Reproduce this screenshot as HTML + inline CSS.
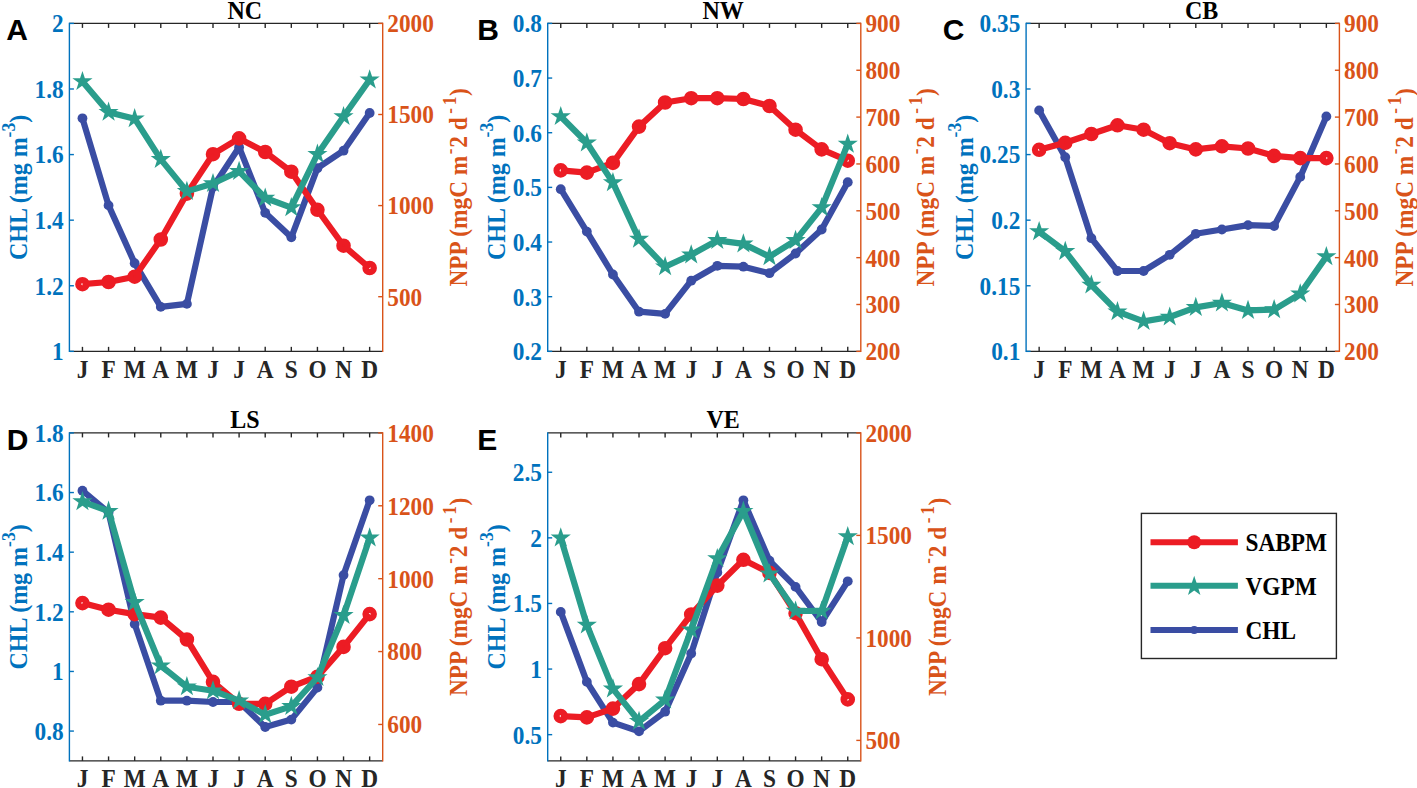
<!DOCTYPE html><html><head><meta charset="utf-8"><style>html,body{margin:0;padding:0;background:#fff;}svg{display:block;}</style></head><body>
<svg width="1417" height="788" viewBox="0 0 1417 788">
<rect width="1417" height="788" fill="#fff"/>
<line x1="69.40" y1="23.40" x2="382.70" y2="23.40" stroke="#262626" stroke-width="1.4"/>
<line x1="69.40" y1="351.35" x2="382.70" y2="351.35" stroke="#262626" stroke-width="1.4"/>
<line x1="69.40" y1="22.70" x2="69.40" y2="352.05" stroke="#0072BD" stroke-width="1.4"/>
<line x1="382.70" y1="22.70" x2="382.70" y2="352.05" stroke="#D95319" stroke-width="1.4"/>
<line x1="82.45" y1="351.35" x2="82.45" y2="346.85" stroke="#262626" stroke-width="1.4"/>
<line x1="82.45" y1="23.40" x2="82.45" y2="27.90" stroke="#262626" stroke-width="1.4"/>
<line x1="108.56" y1="351.35" x2="108.56" y2="346.85" stroke="#262626" stroke-width="1.4"/>
<line x1="108.56" y1="23.40" x2="108.56" y2="27.90" stroke="#262626" stroke-width="1.4"/>
<line x1="134.67" y1="351.35" x2="134.67" y2="346.85" stroke="#262626" stroke-width="1.4"/>
<line x1="134.67" y1="23.40" x2="134.67" y2="27.90" stroke="#262626" stroke-width="1.4"/>
<line x1="160.78" y1="351.35" x2="160.78" y2="346.85" stroke="#262626" stroke-width="1.4"/>
<line x1="160.78" y1="23.40" x2="160.78" y2="27.90" stroke="#262626" stroke-width="1.4"/>
<line x1="186.89" y1="351.35" x2="186.89" y2="346.85" stroke="#262626" stroke-width="1.4"/>
<line x1="186.89" y1="23.40" x2="186.89" y2="27.90" stroke="#262626" stroke-width="1.4"/>
<line x1="213.00" y1="351.35" x2="213.00" y2="346.85" stroke="#262626" stroke-width="1.4"/>
<line x1="213.00" y1="23.40" x2="213.00" y2="27.90" stroke="#262626" stroke-width="1.4"/>
<line x1="239.10" y1="351.35" x2="239.10" y2="346.85" stroke="#262626" stroke-width="1.4"/>
<line x1="239.10" y1="23.40" x2="239.10" y2="27.90" stroke="#262626" stroke-width="1.4"/>
<line x1="265.21" y1="351.35" x2="265.21" y2="346.85" stroke="#262626" stroke-width="1.4"/>
<line x1="265.21" y1="23.40" x2="265.21" y2="27.90" stroke="#262626" stroke-width="1.4"/>
<line x1="291.32" y1="351.35" x2="291.32" y2="346.85" stroke="#262626" stroke-width="1.4"/>
<line x1="291.32" y1="23.40" x2="291.32" y2="27.90" stroke="#262626" stroke-width="1.4"/>
<line x1="317.43" y1="351.35" x2="317.43" y2="346.85" stroke="#262626" stroke-width="1.4"/>
<line x1="317.43" y1="23.40" x2="317.43" y2="27.90" stroke="#262626" stroke-width="1.4"/>
<line x1="343.54" y1="351.35" x2="343.54" y2="346.85" stroke="#262626" stroke-width="1.4"/>
<line x1="343.54" y1="23.40" x2="343.54" y2="27.90" stroke="#262626" stroke-width="1.4"/>
<line x1="369.65" y1="351.35" x2="369.65" y2="346.85" stroke="#262626" stroke-width="1.4"/>
<line x1="369.65" y1="23.40" x2="369.65" y2="27.90" stroke="#262626" stroke-width="1.4"/>
<text transform="translate(82.45,377.65) scale(1.000,1.050)" text-anchor="middle" font-family='"Liberation Serif", serif' font-weight="bold" font-size="23.3" fill="#262626">J</text>
<text transform="translate(108.56,377.65) scale(1.000,1.050)" text-anchor="middle" font-family='"Liberation Serif", serif' font-weight="bold" font-size="23.3" fill="#262626">F</text>
<text transform="translate(134.67,377.65) scale(1.000,1.050)" text-anchor="middle" font-family='"Liberation Serif", serif' font-weight="bold" font-size="23.3" fill="#262626">M</text>
<text transform="translate(160.78,377.65) scale(1.000,1.050)" text-anchor="middle" font-family='"Liberation Serif", serif' font-weight="bold" font-size="23.3" fill="#262626">A</text>
<text transform="translate(186.89,377.65) scale(1.000,1.050)" text-anchor="middle" font-family='"Liberation Serif", serif' font-weight="bold" font-size="23.3" fill="#262626">M</text>
<text transform="translate(213.00,377.65) scale(1.000,1.050)" text-anchor="middle" font-family='"Liberation Serif", serif' font-weight="bold" font-size="23.3" fill="#262626">J</text>
<text transform="translate(239.10,377.65) scale(1.000,1.050)" text-anchor="middle" font-family='"Liberation Serif", serif' font-weight="bold" font-size="23.3" fill="#262626">J</text>
<text transform="translate(265.21,377.65) scale(1.000,1.050)" text-anchor="middle" font-family='"Liberation Serif", serif' font-weight="bold" font-size="23.3" fill="#262626">A</text>
<text transform="translate(291.32,377.65) scale(1.000,1.050)" text-anchor="middle" font-family='"Liberation Serif", serif' font-weight="bold" font-size="23.3" fill="#262626">S</text>
<text transform="translate(317.43,377.65) scale(1.000,1.050)" text-anchor="middle" font-family='"Liberation Serif", serif' font-weight="bold" font-size="23.3" fill="#262626">O</text>
<text transform="translate(343.54,377.65) scale(1.000,1.050)" text-anchor="middle" font-family='"Liberation Serif", serif' font-weight="bold" font-size="23.3" fill="#262626">N</text>
<text transform="translate(369.65,377.65) scale(1.000,1.050)" text-anchor="middle" font-family='"Liberation Serif", serif' font-weight="bold" font-size="23.3" fill="#262626">D</text>
<line x1="69.40" y1="351.35" x2="73.90" y2="351.35" stroke="#0072BD" stroke-width="1.4"/>
<text transform="translate(63.60,360.25) scale(1.000,1.050)" text-anchor="end" font-family='"Liberation Serif", serif' font-weight="bold" font-size="23.3" fill="#0072BD">1</text>
<line x1="69.40" y1="285.76" x2="73.90" y2="285.76" stroke="#0072BD" stroke-width="1.4"/>
<text transform="translate(63.60,294.66) scale(1.000,1.050)" text-anchor="end" font-family='"Liberation Serif", serif' font-weight="bold" font-size="23.3" fill="#0072BD">1.2</text>
<line x1="69.40" y1="220.17" x2="73.90" y2="220.17" stroke="#0072BD" stroke-width="1.4"/>
<text transform="translate(63.60,229.07) scale(1.000,1.050)" text-anchor="end" font-family='"Liberation Serif", serif' font-weight="bold" font-size="23.3" fill="#0072BD">1.4</text>
<line x1="69.40" y1="154.58" x2="73.90" y2="154.58" stroke="#0072BD" stroke-width="1.4"/>
<text transform="translate(63.60,163.48) scale(1.000,1.050)" text-anchor="end" font-family='"Liberation Serif", serif' font-weight="bold" font-size="23.3" fill="#0072BD">1.6</text>
<line x1="69.40" y1="88.99" x2="73.90" y2="88.99" stroke="#0072BD" stroke-width="1.4"/>
<text transform="translate(63.60,97.89) scale(1.000,1.050)" text-anchor="end" font-family='"Liberation Serif", serif' font-weight="bold" font-size="23.3" fill="#0072BD">1.8</text>
<line x1="69.40" y1="23.40" x2="73.90" y2="23.40" stroke="#0072BD" stroke-width="1.4"/>
<text transform="translate(63.60,32.30) scale(1.000,1.050)" text-anchor="end" font-family='"Liberation Serif", serif' font-weight="bold" font-size="23.3" fill="#0072BD">2</text>
<line x1="382.70" y1="296.69" x2="378.20" y2="296.69" stroke="#D95319" stroke-width="1.4"/>
<text transform="translate(387.30,305.59) scale(1.000,1.050)" text-anchor="start" font-family='"Liberation Serif", serif' font-weight="bold" font-size="23.3" fill="#D95319">500</text>
<line x1="382.70" y1="205.59" x2="378.20" y2="205.59" stroke="#D95319" stroke-width="1.4"/>
<text transform="translate(387.30,214.49) scale(1.000,1.050)" text-anchor="start" font-family='"Liberation Serif", serif' font-weight="bold" font-size="23.3" fill="#D95319">1000</text>
<line x1="382.70" y1="114.50" x2="378.20" y2="114.50" stroke="#D95319" stroke-width="1.4"/>
<text transform="translate(387.30,123.40) scale(1.000,1.050)" text-anchor="start" font-family='"Liberation Serif", serif' font-weight="bold" font-size="23.3" fill="#D95319">1500</text>
<line x1="382.70" y1="23.40" x2="378.20" y2="23.40" stroke="#D95319" stroke-width="1.4"/>
<text transform="translate(387.30,32.30) scale(1.000,1.050)" text-anchor="start" font-family='"Liberation Serif", serif' font-weight="bold" font-size="23.3" fill="#D95319">2000</text>
<text transform="translate(244.85,18.60) scale(1.000,1.050)" text-anchor="middle" font-family='"Liberation Serif", serif' font-weight="bold" font-size="24" fill="#000">NC</text>
<text transform="translate(6.20,40.00) scale(1.000,1.000)" text-anchor="start" font-family='"Liberation Sans", sans-serif' font-weight="bold" font-size="30" fill="#000">A</text>
<text transform="translate(26.70,187.38) rotate(-90) scale(1.030,1.050)" text-anchor="middle" font-family='"Liberation Serif", serif' font-weight="bold" font-size="23.3" fill="#0072BD">CHL (mg m<tspan dy="-11" font-size="17">-3</tspan><tspan dy="11">)</tspan></text>
<text transform="translate(467.40,187.38) rotate(-90) scale(1.000,1.050)" text-anchor="middle" font-family='"Liberation Serif", serif' font-weight="bold" font-size="23.3" fill="#D95319">NPP (mgC m<tspan dx="1.5" dy="-11" font-size="17">-</tspan><tspan dx="1" dy="11">2 d</tspan><tspan dx="3.5" dy="-11" font-size="17">-</tspan><tspan dx="3" font-size="17">1</tspan><tspan dx="0.5" dy="11">)</tspan></text>
<polyline points="82.45,118.30 108.56,205.40 134.67,263.20 160.78,306.90 186.89,303.90 213.00,187.00 239.10,147.20 265.21,212.80 291.32,237.30 317.43,168.20 343.54,150.70 369.65,113.00" fill="none" stroke="#3A4DA3" stroke-width="6.2" stroke-linejoin="round" stroke-linecap="butt"/>
<circle cx="82.45" cy="118.30" r="4.9" fill="#3A4DA3"/>
<circle cx="108.56" cy="205.40" r="4.9" fill="#3A4DA3"/>
<circle cx="134.67" cy="263.20" r="4.9" fill="#3A4DA3"/>
<circle cx="160.78" cy="306.90" r="4.9" fill="#3A4DA3"/>
<circle cx="186.89" cy="303.90" r="4.9" fill="#3A4DA3"/>
<circle cx="213.00" cy="187.00" r="4.9" fill="#3A4DA3"/>
<circle cx="239.10" cy="147.20" r="4.9" fill="#3A4DA3"/>
<circle cx="265.21" cy="212.80" r="4.9" fill="#3A4DA3"/>
<circle cx="291.32" cy="237.30" r="4.9" fill="#3A4DA3"/>
<circle cx="317.43" cy="168.20" r="4.9" fill="#3A4DA3"/>
<circle cx="343.54" cy="150.70" r="4.9" fill="#3A4DA3"/>
<circle cx="369.65" cy="113.00" r="4.9" fill="#3A4DA3"/>
<polyline points="82.45,284.20 108.56,282.00 134.67,276.70 160.78,239.50 186.89,193.60 213.00,154.20 239.10,138.40 265.21,152.00 291.32,171.70 317.43,209.80 343.54,245.70 369.65,268.00" fill="none" stroke="#EC1C24" stroke-width="6.2" stroke-linejoin="round" stroke-linecap="butt"/>
<circle cx="82.45" cy="284.20" r="4.2" fill="none" stroke="#EC1C24" stroke-width="6.2"/>
<circle cx="108.56" cy="282.00" r="4.2" fill="none" stroke="#EC1C24" stroke-width="6.2"/>
<circle cx="134.67" cy="276.70" r="4.2" fill="none" stroke="#EC1C24" stroke-width="6.2"/>
<circle cx="160.78" cy="239.50" r="4.2" fill="none" stroke="#EC1C24" stroke-width="6.2"/>
<circle cx="186.89" cy="193.60" r="4.2" fill="none" stroke="#EC1C24" stroke-width="6.2"/>
<circle cx="213.00" cy="154.20" r="4.2" fill="none" stroke="#EC1C24" stroke-width="6.2"/>
<circle cx="239.10" cy="138.40" r="4.2" fill="none" stroke="#EC1C24" stroke-width="6.2"/>
<circle cx="265.21" cy="152.00" r="4.2" fill="none" stroke="#EC1C24" stroke-width="6.2"/>
<circle cx="291.32" cy="171.70" r="4.2" fill="none" stroke="#EC1C24" stroke-width="6.2"/>
<circle cx="317.43" cy="209.80" r="4.2" fill="none" stroke="#EC1C24" stroke-width="6.2"/>
<circle cx="343.54" cy="245.70" r="4.2" fill="none" stroke="#EC1C24" stroke-width="6.2"/>
<circle cx="369.65" cy="268.00" r="4.2" fill="none" stroke="#EC1C24" stroke-width="6.2"/>
<polyline points="82.45,81.50 108.56,112.20 134.67,118.70 160.78,159.40 186.89,191.40 213.00,183.50 239.10,171.30 265.21,198.00 291.32,207.60 317.43,154.20 343.54,116.50 369.65,79.80" fill="none" stroke="#2A9D8C" stroke-width="6.2" stroke-linejoin="round" stroke-linecap="butt"/>
<polygon points="82.45,70.90 80.04,78.18 72.37,78.22 78.55,82.77 76.22,90.08 82.45,85.60 88.68,90.08 86.35,82.77 92.54,78.22 84.86,78.18" fill="#2A9D8C"/>
<polygon points="108.56,101.60 106.15,108.88 98.48,108.92 104.66,113.47 102.33,120.78 108.56,116.30 114.79,120.78 112.46,113.47 118.64,108.92 110.97,108.88" fill="#2A9D8C"/>
<polygon points="134.67,108.10 132.26,115.38 124.59,115.42 130.77,119.97 128.44,127.28 134.67,122.80 140.90,127.28 138.57,119.97 144.75,115.42 137.08,115.38" fill="#2A9D8C"/>
<polygon points="160.78,148.80 158.37,156.08 150.70,156.12 156.88,160.67 154.55,167.98 160.78,163.50 167.01,167.98 164.68,160.67 170.86,156.12 163.19,156.08" fill="#2A9D8C"/>
<polygon points="186.89,180.80 184.48,188.08 176.81,188.12 182.99,192.67 180.66,199.98 186.89,195.50 193.12,199.98 190.79,192.67 196.97,188.12 189.30,188.08" fill="#2A9D8C"/>
<polygon points="213.00,172.90 210.59,180.18 202.91,180.22 209.10,184.77 206.77,192.08 213.00,187.60 219.23,192.08 216.90,184.77 223.08,180.22 215.41,180.18" fill="#2A9D8C"/>
<polygon points="239.10,160.70 236.69,167.98 229.02,168.02 235.20,172.57 232.87,179.88 239.10,175.40 245.33,179.88 243.00,172.57 249.19,168.02 241.51,167.98" fill="#2A9D8C"/>
<polygon points="265.21,187.40 262.80,194.68 255.13,194.72 261.31,199.27 258.98,206.58 265.21,202.10 271.44,206.58 269.11,199.27 275.29,194.72 267.62,194.68" fill="#2A9D8C"/>
<polygon points="291.32,197.00 288.91,204.28 281.24,204.32 287.42,208.87 285.09,216.18 291.32,211.70 297.55,216.18 295.22,208.87 301.40,204.32 293.73,204.28" fill="#2A9D8C"/>
<polygon points="317.43,143.60 315.02,150.88 307.35,150.92 313.53,155.47 311.20,162.78 317.43,158.30 323.66,162.78 321.33,155.47 327.51,150.92 319.84,150.88" fill="#2A9D8C"/>
<polygon points="343.54,105.90 341.13,113.18 333.46,113.22 339.64,117.77 337.31,125.08 343.54,120.60 349.77,125.08 347.44,117.77 353.62,113.22 345.95,113.18" fill="#2A9D8C"/>
<polygon points="369.65,69.20 367.24,76.48 359.56,76.52 365.75,81.07 363.42,88.38 369.65,83.90 375.88,88.38 373.55,81.07 379.73,76.52 372.06,76.48" fill="#2A9D8C"/>
<line x1="547.70" y1="23.40" x2="860.80" y2="23.40" stroke="#262626" stroke-width="1.4"/>
<line x1="547.70" y1="351.35" x2="860.80" y2="351.35" stroke="#262626" stroke-width="1.4"/>
<line x1="547.70" y1="22.70" x2="547.70" y2="352.05" stroke="#0072BD" stroke-width="1.4"/>
<line x1="860.80" y1="22.70" x2="860.80" y2="352.05" stroke="#D95319" stroke-width="1.4"/>
<line x1="560.75" y1="351.35" x2="560.75" y2="346.85" stroke="#262626" stroke-width="1.4"/>
<line x1="560.75" y1="23.40" x2="560.75" y2="27.90" stroke="#262626" stroke-width="1.4"/>
<line x1="586.84" y1="351.35" x2="586.84" y2="346.85" stroke="#262626" stroke-width="1.4"/>
<line x1="586.84" y1="23.40" x2="586.84" y2="27.90" stroke="#262626" stroke-width="1.4"/>
<line x1="612.93" y1="351.35" x2="612.93" y2="346.85" stroke="#262626" stroke-width="1.4"/>
<line x1="612.93" y1="23.40" x2="612.93" y2="27.90" stroke="#262626" stroke-width="1.4"/>
<line x1="639.02" y1="351.35" x2="639.02" y2="346.85" stroke="#262626" stroke-width="1.4"/>
<line x1="639.02" y1="23.40" x2="639.02" y2="27.90" stroke="#262626" stroke-width="1.4"/>
<line x1="665.11" y1="351.35" x2="665.11" y2="346.85" stroke="#262626" stroke-width="1.4"/>
<line x1="665.11" y1="23.40" x2="665.11" y2="27.90" stroke="#262626" stroke-width="1.4"/>
<line x1="691.20" y1="351.35" x2="691.20" y2="346.85" stroke="#262626" stroke-width="1.4"/>
<line x1="691.20" y1="23.40" x2="691.20" y2="27.90" stroke="#262626" stroke-width="1.4"/>
<line x1="717.30" y1="351.35" x2="717.30" y2="346.85" stroke="#262626" stroke-width="1.4"/>
<line x1="717.30" y1="23.40" x2="717.30" y2="27.90" stroke="#262626" stroke-width="1.4"/>
<line x1="743.39" y1="351.35" x2="743.39" y2="346.85" stroke="#262626" stroke-width="1.4"/>
<line x1="743.39" y1="23.40" x2="743.39" y2="27.90" stroke="#262626" stroke-width="1.4"/>
<line x1="769.48" y1="351.35" x2="769.48" y2="346.85" stroke="#262626" stroke-width="1.4"/>
<line x1="769.48" y1="23.40" x2="769.48" y2="27.90" stroke="#262626" stroke-width="1.4"/>
<line x1="795.57" y1="351.35" x2="795.57" y2="346.85" stroke="#262626" stroke-width="1.4"/>
<line x1="795.57" y1="23.40" x2="795.57" y2="27.90" stroke="#262626" stroke-width="1.4"/>
<line x1="821.66" y1="351.35" x2="821.66" y2="346.85" stroke="#262626" stroke-width="1.4"/>
<line x1="821.66" y1="23.40" x2="821.66" y2="27.90" stroke="#262626" stroke-width="1.4"/>
<line x1="847.75" y1="351.35" x2="847.75" y2="346.85" stroke="#262626" stroke-width="1.4"/>
<line x1="847.75" y1="23.40" x2="847.75" y2="27.90" stroke="#262626" stroke-width="1.4"/>
<text transform="translate(560.75,377.65) scale(1.000,1.050)" text-anchor="middle" font-family='"Liberation Serif", serif' font-weight="bold" font-size="23.3" fill="#262626">J</text>
<text transform="translate(586.84,377.65) scale(1.000,1.050)" text-anchor="middle" font-family='"Liberation Serif", serif' font-weight="bold" font-size="23.3" fill="#262626">F</text>
<text transform="translate(612.93,377.65) scale(1.000,1.050)" text-anchor="middle" font-family='"Liberation Serif", serif' font-weight="bold" font-size="23.3" fill="#262626">M</text>
<text transform="translate(639.02,377.65) scale(1.000,1.050)" text-anchor="middle" font-family='"Liberation Serif", serif' font-weight="bold" font-size="23.3" fill="#262626">A</text>
<text transform="translate(665.11,377.65) scale(1.000,1.050)" text-anchor="middle" font-family='"Liberation Serif", serif' font-weight="bold" font-size="23.3" fill="#262626">M</text>
<text transform="translate(691.20,377.65) scale(1.000,1.050)" text-anchor="middle" font-family='"Liberation Serif", serif' font-weight="bold" font-size="23.3" fill="#262626">J</text>
<text transform="translate(717.30,377.65) scale(1.000,1.050)" text-anchor="middle" font-family='"Liberation Serif", serif' font-weight="bold" font-size="23.3" fill="#262626">J</text>
<text transform="translate(743.39,377.65) scale(1.000,1.050)" text-anchor="middle" font-family='"Liberation Serif", serif' font-weight="bold" font-size="23.3" fill="#262626">A</text>
<text transform="translate(769.48,377.65) scale(1.000,1.050)" text-anchor="middle" font-family='"Liberation Serif", serif' font-weight="bold" font-size="23.3" fill="#262626">S</text>
<text transform="translate(795.57,377.65) scale(1.000,1.050)" text-anchor="middle" font-family='"Liberation Serif", serif' font-weight="bold" font-size="23.3" fill="#262626">O</text>
<text transform="translate(821.66,377.65) scale(1.000,1.050)" text-anchor="middle" font-family='"Liberation Serif", serif' font-weight="bold" font-size="23.3" fill="#262626">N</text>
<text transform="translate(847.75,377.65) scale(1.000,1.050)" text-anchor="middle" font-family='"Liberation Serif", serif' font-weight="bold" font-size="23.3" fill="#262626">D</text>
<line x1="547.70" y1="351.35" x2="552.20" y2="351.35" stroke="#0072BD" stroke-width="1.4"/>
<text transform="translate(541.90,360.25) scale(1.000,1.050)" text-anchor="end" font-family='"Liberation Serif", serif' font-weight="bold" font-size="23.3" fill="#0072BD">0.2</text>
<line x1="547.70" y1="296.69" x2="552.20" y2="296.69" stroke="#0072BD" stroke-width="1.4"/>
<text transform="translate(541.90,305.59) scale(1.000,1.050)" text-anchor="end" font-family='"Liberation Serif", serif' font-weight="bold" font-size="23.3" fill="#0072BD">0.3</text>
<line x1="547.70" y1="242.03" x2="552.20" y2="242.03" stroke="#0072BD" stroke-width="1.4"/>
<text transform="translate(541.90,250.93) scale(1.000,1.050)" text-anchor="end" font-family='"Liberation Serif", serif' font-weight="bold" font-size="23.3" fill="#0072BD">0.4</text>
<line x1="547.70" y1="187.38" x2="552.20" y2="187.38" stroke="#0072BD" stroke-width="1.4"/>
<text transform="translate(541.90,196.28) scale(1.000,1.050)" text-anchor="end" font-family='"Liberation Serif", serif' font-weight="bold" font-size="23.3" fill="#0072BD">0.5</text>
<line x1="547.70" y1="132.72" x2="552.20" y2="132.72" stroke="#0072BD" stroke-width="1.4"/>
<text transform="translate(541.90,141.62) scale(1.000,1.050)" text-anchor="end" font-family='"Liberation Serif", serif' font-weight="bold" font-size="23.3" fill="#0072BD">0.6</text>
<line x1="547.70" y1="78.06" x2="552.20" y2="78.06" stroke="#0072BD" stroke-width="1.4"/>
<text transform="translate(541.90,86.96) scale(1.000,1.050)" text-anchor="end" font-family='"Liberation Serif", serif' font-weight="bold" font-size="23.3" fill="#0072BD">0.7</text>
<line x1="547.70" y1="23.40" x2="552.20" y2="23.40" stroke="#0072BD" stroke-width="1.4"/>
<text transform="translate(541.90,32.30) scale(1.000,1.050)" text-anchor="end" font-family='"Liberation Serif", serif' font-weight="bold" font-size="23.3" fill="#0072BD">0.8</text>
<line x1="860.80" y1="351.35" x2="856.30" y2="351.35" stroke="#D95319" stroke-width="1.4"/>
<text transform="translate(865.40,360.25) scale(1.000,1.050)" text-anchor="start" font-family='"Liberation Serif", serif' font-weight="bold" font-size="23.3" fill="#D95319">200</text>
<line x1="860.80" y1="304.50" x2="856.30" y2="304.50" stroke="#D95319" stroke-width="1.4"/>
<text transform="translate(865.40,313.40) scale(1.000,1.050)" text-anchor="start" font-family='"Liberation Serif", serif' font-weight="bold" font-size="23.3" fill="#D95319">300</text>
<line x1="860.80" y1="257.65" x2="856.30" y2="257.65" stroke="#D95319" stroke-width="1.4"/>
<text transform="translate(865.40,266.55) scale(1.000,1.050)" text-anchor="start" font-family='"Liberation Serif", serif' font-weight="bold" font-size="23.3" fill="#D95319">400</text>
<line x1="860.80" y1="210.80" x2="856.30" y2="210.80" stroke="#D95319" stroke-width="1.4"/>
<text transform="translate(865.40,219.70) scale(1.000,1.050)" text-anchor="start" font-family='"Liberation Serif", serif' font-weight="bold" font-size="23.3" fill="#D95319">500</text>
<line x1="860.80" y1="163.95" x2="856.30" y2="163.95" stroke="#D95319" stroke-width="1.4"/>
<text transform="translate(865.40,172.85) scale(1.000,1.050)" text-anchor="start" font-family='"Liberation Serif", serif' font-weight="bold" font-size="23.3" fill="#D95319">600</text>
<line x1="860.80" y1="117.10" x2="856.30" y2="117.10" stroke="#D95319" stroke-width="1.4"/>
<text transform="translate(865.40,126.00) scale(1.000,1.050)" text-anchor="start" font-family='"Liberation Serif", serif' font-weight="bold" font-size="23.3" fill="#D95319">700</text>
<line x1="860.80" y1="70.25" x2="856.30" y2="70.25" stroke="#D95319" stroke-width="1.4"/>
<text transform="translate(865.40,79.15) scale(1.000,1.050)" text-anchor="start" font-family='"Liberation Serif", serif' font-weight="bold" font-size="23.3" fill="#D95319">800</text>
<line x1="860.80" y1="23.40" x2="856.30" y2="23.40" stroke="#D95319" stroke-width="1.4"/>
<text transform="translate(865.40,32.30) scale(1.000,1.050)" text-anchor="start" font-family='"Liberation Serif", serif' font-weight="bold" font-size="23.3" fill="#D95319">900</text>
<text transform="translate(723.05,18.60) scale(1.000,1.050)" text-anchor="middle" font-family='"Liberation Serif", serif' font-weight="bold" font-size="24" fill="#000">NW</text>
<text transform="translate(477.30,40.00) scale(1.000,1.000)" text-anchor="start" font-family='"Liberation Sans", sans-serif' font-weight="bold" font-size="30" fill="#000">B</text>
<text transform="translate(505.00,187.38) rotate(-90) scale(1.030,1.050)" text-anchor="middle" font-family='"Liberation Serif", serif' font-weight="bold" font-size="23.3" fill="#0072BD">CHL (mg m<tspan dy="-11" font-size="17">-3</tspan><tspan dy="11">)</tspan></text>
<text transform="translate(934.00,187.38) rotate(-90) scale(1.000,1.050)" text-anchor="middle" font-family='"Liberation Serif", serif' font-weight="bold" font-size="23.3" fill="#D95319">NPP (mgC m<tspan dx="1.5" dy="-11" font-size="17">-</tspan><tspan dx="1" dy="11">2 d</tspan><tspan dx="3.5" dy="-11" font-size="17">-</tspan><tspan dx="3" font-size="17">1</tspan><tspan dx="0.5" dy="11">)</tspan></text>
<polyline points="560.75,189.20 586.84,231.60 612.93,274.50 639.02,311.70 665.11,313.90 691.20,280.70 717.30,265.80 743.39,266.70 769.48,273.20 795.57,253.50 821.66,229.50 847.75,182.20" fill="none" stroke="#3A4DA3" stroke-width="6.2" stroke-linejoin="round" stroke-linecap="butt"/>
<circle cx="560.75" cy="189.20" r="4.9" fill="#3A4DA3"/>
<circle cx="586.84" cy="231.60" r="4.9" fill="#3A4DA3"/>
<circle cx="612.93" cy="274.50" r="4.9" fill="#3A4DA3"/>
<circle cx="639.02" cy="311.70" r="4.9" fill="#3A4DA3"/>
<circle cx="665.11" cy="313.90" r="4.9" fill="#3A4DA3"/>
<circle cx="691.20" cy="280.70" r="4.9" fill="#3A4DA3"/>
<circle cx="717.30" cy="265.80" r="4.9" fill="#3A4DA3"/>
<circle cx="743.39" cy="266.70" r="4.9" fill="#3A4DA3"/>
<circle cx="769.48" cy="273.20" r="4.9" fill="#3A4DA3"/>
<circle cx="795.57" cy="253.50" r="4.9" fill="#3A4DA3"/>
<circle cx="821.66" cy="229.50" r="4.9" fill="#3A4DA3"/>
<circle cx="847.75" cy="182.20" r="4.9" fill="#3A4DA3"/>
<polyline points="560.75,170.40 586.84,172.60 612.93,162.90 639.02,126.60 665.11,102.50 691.20,98.20 717.30,98.20 743.39,99.00 769.48,106.00 795.57,129.70 821.66,149.40 847.75,160.70" fill="none" stroke="#EC1C24" stroke-width="6.2" stroke-linejoin="round" stroke-linecap="butt"/>
<circle cx="560.75" cy="170.40" r="4.2" fill="none" stroke="#EC1C24" stroke-width="6.2"/>
<circle cx="586.84" cy="172.60" r="4.2" fill="none" stroke="#EC1C24" stroke-width="6.2"/>
<circle cx="612.93" cy="162.90" r="4.2" fill="none" stroke="#EC1C24" stroke-width="6.2"/>
<circle cx="639.02" cy="126.60" r="4.2" fill="none" stroke="#EC1C24" stroke-width="6.2"/>
<circle cx="665.11" cy="102.50" r="4.2" fill="none" stroke="#EC1C24" stroke-width="6.2"/>
<circle cx="691.20" cy="98.20" r="4.2" fill="none" stroke="#EC1C24" stroke-width="6.2"/>
<circle cx="717.30" cy="98.20" r="4.2" fill="none" stroke="#EC1C24" stroke-width="6.2"/>
<circle cx="743.39" cy="99.00" r="4.2" fill="none" stroke="#EC1C24" stroke-width="6.2"/>
<circle cx="769.48" cy="106.00" r="4.2" fill="none" stroke="#EC1C24" stroke-width="6.2"/>
<circle cx="795.57" cy="129.70" r="4.2" fill="none" stroke="#EC1C24" stroke-width="6.2"/>
<circle cx="821.66" cy="149.40" r="4.2" fill="none" stroke="#EC1C24" stroke-width="6.2"/>
<circle cx="847.75" cy="160.70" r="4.2" fill="none" stroke="#EC1C24" stroke-width="6.2"/>
<polyline points="560.75,116.50 586.84,142.80 612.93,182.60 639.02,239.10 665.11,266.70 691.20,254.80 717.30,240.40 743.39,243.90 769.48,256.60 795.57,240.40 821.66,207.60 847.75,144.10" fill="none" stroke="#2A9D8C" stroke-width="6.2" stroke-linejoin="round" stroke-linecap="butt"/>
<polygon points="560.75,105.90 558.34,113.18 550.66,113.22 556.85,117.77 554.52,125.08 560.75,120.60 566.98,125.08 564.65,117.77 570.83,113.22 563.16,113.18" fill="#2A9D8C"/>
<polygon points="586.84,132.20 584.43,139.48 576.76,139.52 582.94,144.07 580.61,151.38 586.84,146.90 593.07,151.38 590.74,144.07 596.92,139.52 589.25,139.48" fill="#2A9D8C"/>
<polygon points="612.93,172.00 610.52,179.28 602.85,179.32 609.03,183.87 606.70,191.18 612.93,186.70 619.16,191.18 616.83,183.87 623.01,179.32 615.34,179.28" fill="#2A9D8C"/>
<polygon points="639.02,228.50 636.61,235.78 628.94,235.82 635.12,240.37 632.79,247.68 639.02,243.20 645.25,247.68 642.92,240.37 649.10,235.82 641.43,235.78" fill="#2A9D8C"/>
<polygon points="665.11,256.10 662.70,263.38 655.03,263.42 661.21,267.97 658.88,275.28 665.11,270.80 671.34,275.28 669.01,267.97 675.19,263.42 667.52,263.38" fill="#2A9D8C"/>
<polygon points="691.20,244.20 688.79,251.48 681.12,251.52 687.30,256.07 684.97,263.38 691.20,258.90 697.43,263.38 695.10,256.07 701.29,251.52 693.61,251.48" fill="#2A9D8C"/>
<polygon points="717.30,229.80 714.89,237.08 707.21,237.12 713.40,241.67 711.07,248.98 717.30,244.50 723.53,248.98 721.20,241.67 727.38,237.12 719.71,237.08" fill="#2A9D8C"/>
<polygon points="743.39,233.30 740.98,240.58 733.31,240.62 739.49,245.17 737.16,252.48 743.39,248.00 749.62,252.48 747.29,245.17 753.47,240.62 745.80,240.58" fill="#2A9D8C"/>
<polygon points="769.48,246.00 767.07,253.28 759.40,253.32 765.58,257.87 763.25,265.18 769.48,260.70 775.71,265.18 773.38,257.87 779.56,253.32 771.89,253.28" fill="#2A9D8C"/>
<polygon points="795.57,229.80 793.16,237.08 785.49,237.12 791.67,241.67 789.34,248.98 795.57,244.50 801.80,248.98 799.47,241.67 805.65,237.12 797.98,237.08" fill="#2A9D8C"/>
<polygon points="821.66,197.00 819.25,204.28 811.58,204.32 817.76,208.87 815.43,216.18 821.66,211.70 827.89,216.18 825.56,208.87 831.74,204.32 824.07,204.28" fill="#2A9D8C"/>
<polygon points="847.75,133.50 845.34,140.78 837.67,140.82 843.85,145.37 841.52,152.68 847.75,148.20 853.98,152.68 851.65,145.37 857.84,140.82 850.16,140.78" fill="#2A9D8C"/>
<line x1="1026.10" y1="23.40" x2="1339.40" y2="23.40" stroke="#262626" stroke-width="1.4"/>
<line x1="1026.10" y1="351.35" x2="1339.40" y2="351.35" stroke="#262626" stroke-width="1.4"/>
<line x1="1026.10" y1="22.70" x2="1026.10" y2="352.05" stroke="#0072BD" stroke-width="1.4"/>
<line x1="1339.40" y1="22.70" x2="1339.40" y2="352.05" stroke="#D95319" stroke-width="1.4"/>
<line x1="1039.15" y1="351.35" x2="1039.15" y2="346.85" stroke="#262626" stroke-width="1.4"/>
<line x1="1039.15" y1="23.40" x2="1039.15" y2="27.90" stroke="#262626" stroke-width="1.4"/>
<line x1="1065.26" y1="351.35" x2="1065.26" y2="346.85" stroke="#262626" stroke-width="1.4"/>
<line x1="1065.26" y1="23.40" x2="1065.26" y2="27.90" stroke="#262626" stroke-width="1.4"/>
<line x1="1091.37" y1="351.35" x2="1091.37" y2="346.85" stroke="#262626" stroke-width="1.4"/>
<line x1="1091.37" y1="23.40" x2="1091.37" y2="27.90" stroke="#262626" stroke-width="1.4"/>
<line x1="1117.48" y1="351.35" x2="1117.48" y2="346.85" stroke="#262626" stroke-width="1.4"/>
<line x1="1117.48" y1="23.40" x2="1117.48" y2="27.90" stroke="#262626" stroke-width="1.4"/>
<line x1="1143.59" y1="351.35" x2="1143.59" y2="346.85" stroke="#262626" stroke-width="1.4"/>
<line x1="1143.59" y1="23.40" x2="1143.59" y2="27.90" stroke="#262626" stroke-width="1.4"/>
<line x1="1169.70" y1="351.35" x2="1169.70" y2="346.85" stroke="#262626" stroke-width="1.4"/>
<line x1="1169.70" y1="23.40" x2="1169.70" y2="27.90" stroke="#262626" stroke-width="1.4"/>
<line x1="1195.80" y1="351.35" x2="1195.80" y2="346.85" stroke="#262626" stroke-width="1.4"/>
<line x1="1195.80" y1="23.40" x2="1195.80" y2="27.90" stroke="#262626" stroke-width="1.4"/>
<line x1="1221.91" y1="351.35" x2="1221.91" y2="346.85" stroke="#262626" stroke-width="1.4"/>
<line x1="1221.91" y1="23.40" x2="1221.91" y2="27.90" stroke="#262626" stroke-width="1.4"/>
<line x1="1248.02" y1="351.35" x2="1248.02" y2="346.85" stroke="#262626" stroke-width="1.4"/>
<line x1="1248.02" y1="23.40" x2="1248.02" y2="27.90" stroke="#262626" stroke-width="1.4"/>
<line x1="1274.13" y1="351.35" x2="1274.13" y2="346.85" stroke="#262626" stroke-width="1.4"/>
<line x1="1274.13" y1="23.40" x2="1274.13" y2="27.90" stroke="#262626" stroke-width="1.4"/>
<line x1="1300.24" y1="351.35" x2="1300.24" y2="346.85" stroke="#262626" stroke-width="1.4"/>
<line x1="1300.24" y1="23.40" x2="1300.24" y2="27.90" stroke="#262626" stroke-width="1.4"/>
<line x1="1326.35" y1="351.35" x2="1326.35" y2="346.85" stroke="#262626" stroke-width="1.4"/>
<line x1="1326.35" y1="23.40" x2="1326.35" y2="27.90" stroke="#262626" stroke-width="1.4"/>
<text transform="translate(1039.15,377.65) scale(1.000,1.050)" text-anchor="middle" font-family='"Liberation Serif", serif' font-weight="bold" font-size="23.3" fill="#262626">J</text>
<text transform="translate(1065.26,377.65) scale(1.000,1.050)" text-anchor="middle" font-family='"Liberation Serif", serif' font-weight="bold" font-size="23.3" fill="#262626">F</text>
<text transform="translate(1091.37,377.65) scale(1.000,1.050)" text-anchor="middle" font-family='"Liberation Serif", serif' font-weight="bold" font-size="23.3" fill="#262626">M</text>
<text transform="translate(1117.48,377.65) scale(1.000,1.050)" text-anchor="middle" font-family='"Liberation Serif", serif' font-weight="bold" font-size="23.3" fill="#262626">A</text>
<text transform="translate(1143.59,377.65) scale(1.000,1.050)" text-anchor="middle" font-family='"Liberation Serif", serif' font-weight="bold" font-size="23.3" fill="#262626">M</text>
<text transform="translate(1169.70,377.65) scale(1.000,1.050)" text-anchor="middle" font-family='"Liberation Serif", serif' font-weight="bold" font-size="23.3" fill="#262626">J</text>
<text transform="translate(1195.80,377.65) scale(1.000,1.050)" text-anchor="middle" font-family='"Liberation Serif", serif' font-weight="bold" font-size="23.3" fill="#262626">J</text>
<text transform="translate(1221.91,377.65) scale(1.000,1.050)" text-anchor="middle" font-family='"Liberation Serif", serif' font-weight="bold" font-size="23.3" fill="#262626">A</text>
<text transform="translate(1248.02,377.65) scale(1.000,1.050)" text-anchor="middle" font-family='"Liberation Serif", serif' font-weight="bold" font-size="23.3" fill="#262626">S</text>
<text transform="translate(1274.13,377.65) scale(1.000,1.050)" text-anchor="middle" font-family='"Liberation Serif", serif' font-weight="bold" font-size="23.3" fill="#262626">O</text>
<text transform="translate(1300.24,377.65) scale(1.000,1.050)" text-anchor="middle" font-family='"Liberation Serif", serif' font-weight="bold" font-size="23.3" fill="#262626">N</text>
<text transform="translate(1326.35,377.65) scale(1.000,1.050)" text-anchor="middle" font-family='"Liberation Serif", serif' font-weight="bold" font-size="23.3" fill="#262626">D</text>
<line x1="1026.10" y1="351.35" x2="1030.60" y2="351.35" stroke="#0072BD" stroke-width="1.4"/>
<text transform="translate(1020.30,360.25) scale(1.000,1.050)" text-anchor="end" font-family='"Liberation Serif", serif' font-weight="bold" font-size="23.3" fill="#0072BD">0.1</text>
<line x1="1026.10" y1="285.76" x2="1030.60" y2="285.76" stroke="#0072BD" stroke-width="1.4"/>
<text transform="translate(1020.30,294.66) scale(1.000,1.050)" text-anchor="end" font-family='"Liberation Serif", serif' font-weight="bold" font-size="23.3" fill="#0072BD">0.15</text>
<line x1="1026.10" y1="220.17" x2="1030.60" y2="220.17" stroke="#0072BD" stroke-width="1.4"/>
<text transform="translate(1020.30,229.07) scale(1.000,1.050)" text-anchor="end" font-family='"Liberation Serif", serif' font-weight="bold" font-size="23.3" fill="#0072BD">0.2</text>
<line x1="1026.10" y1="154.58" x2="1030.60" y2="154.58" stroke="#0072BD" stroke-width="1.4"/>
<text transform="translate(1020.30,163.48) scale(1.000,1.050)" text-anchor="end" font-family='"Liberation Serif", serif' font-weight="bold" font-size="23.3" fill="#0072BD">0.25</text>
<line x1="1026.10" y1="88.99" x2="1030.60" y2="88.99" stroke="#0072BD" stroke-width="1.4"/>
<text transform="translate(1020.30,97.89) scale(1.000,1.050)" text-anchor="end" font-family='"Liberation Serif", serif' font-weight="bold" font-size="23.3" fill="#0072BD">0.3</text>
<line x1="1026.10" y1="23.40" x2="1030.60" y2="23.40" stroke="#0072BD" stroke-width="1.4"/>
<text transform="translate(1020.30,32.30) scale(1.000,1.050)" text-anchor="end" font-family='"Liberation Serif", serif' font-weight="bold" font-size="23.3" fill="#0072BD">0.35</text>
<line x1="1339.40" y1="351.35" x2="1334.90" y2="351.35" stroke="#D95319" stroke-width="1.4"/>
<text transform="translate(1344.00,360.25) scale(1.000,1.050)" text-anchor="start" font-family='"Liberation Serif", serif' font-weight="bold" font-size="23.3" fill="#D95319">200</text>
<line x1="1339.40" y1="304.50" x2="1334.90" y2="304.50" stroke="#D95319" stroke-width="1.4"/>
<text transform="translate(1344.00,313.40) scale(1.000,1.050)" text-anchor="start" font-family='"Liberation Serif", serif' font-weight="bold" font-size="23.3" fill="#D95319">300</text>
<line x1="1339.40" y1="257.65" x2="1334.90" y2="257.65" stroke="#D95319" stroke-width="1.4"/>
<text transform="translate(1344.00,266.55) scale(1.000,1.050)" text-anchor="start" font-family='"Liberation Serif", serif' font-weight="bold" font-size="23.3" fill="#D95319">400</text>
<line x1="1339.40" y1="210.80" x2="1334.90" y2="210.80" stroke="#D95319" stroke-width="1.4"/>
<text transform="translate(1344.00,219.70) scale(1.000,1.050)" text-anchor="start" font-family='"Liberation Serif", serif' font-weight="bold" font-size="23.3" fill="#D95319">500</text>
<line x1="1339.40" y1="163.95" x2="1334.90" y2="163.95" stroke="#D95319" stroke-width="1.4"/>
<text transform="translate(1344.00,172.85) scale(1.000,1.050)" text-anchor="start" font-family='"Liberation Serif", serif' font-weight="bold" font-size="23.3" fill="#D95319">600</text>
<line x1="1339.40" y1="117.10" x2="1334.90" y2="117.10" stroke="#D95319" stroke-width="1.4"/>
<text transform="translate(1344.00,126.00) scale(1.000,1.050)" text-anchor="start" font-family='"Liberation Serif", serif' font-weight="bold" font-size="23.3" fill="#D95319">700</text>
<line x1="1339.40" y1="70.25" x2="1334.90" y2="70.25" stroke="#D95319" stroke-width="1.4"/>
<text transform="translate(1344.00,79.15) scale(1.000,1.050)" text-anchor="start" font-family='"Liberation Serif", serif' font-weight="bold" font-size="23.3" fill="#D95319">800</text>
<line x1="1339.40" y1="23.40" x2="1334.90" y2="23.40" stroke="#D95319" stroke-width="1.4"/>
<text transform="translate(1344.00,32.30) scale(1.000,1.050)" text-anchor="start" font-family='"Liberation Serif", serif' font-weight="bold" font-size="23.3" fill="#D95319">900</text>
<text transform="translate(1201.55,18.60) scale(1.000,1.050)" text-anchor="middle" font-family='"Liberation Serif", serif' font-weight="bold" font-size="24" fill="#000">CB</text>
<text transform="translate(942.80,40.00) scale(1.000,1.000)" text-anchor="start" font-family='"Liberation Sans", sans-serif' font-weight="bold" font-size="30" fill="#000">C</text>
<text transform="translate(973.00,187.38) rotate(-90) scale(1.030,1.050)" text-anchor="middle" font-family='"Liberation Serif", serif' font-weight="bold" font-size="23.3" fill="#0072BD">CHL (mg m<tspan dy="-11" font-size="17">-3</tspan><tspan dy="11">)</tspan></text>
<text transform="translate(1412.60,187.38) rotate(-90) scale(1.000,1.050)" text-anchor="middle" font-family='"Liberation Serif", serif' font-weight="bold" font-size="23.3" fill="#D95319">NPP (mgC m<tspan dx="1.5" dy="-11" font-size="17">-</tspan><tspan dx="1" dy="11">2 d</tspan><tspan dx="3.5" dy="-11" font-size="17">-</tspan><tspan dx="3" font-size="17">1</tspan><tspan dx="0.5" dy="11">)</tspan></text>
<polyline points="1039.15,110.40 1065.26,157.20 1091.37,238.20 1117.48,271.00 1143.59,271.00 1169.70,254.80 1195.80,233.80 1221.91,229.50 1248.02,225.10 1274.13,226.00 1300.24,176.90 1326.35,116.50" fill="none" stroke="#3A4DA3" stroke-width="6.2" stroke-linejoin="round" stroke-linecap="butt"/>
<circle cx="1039.15" cy="110.40" r="4.9" fill="#3A4DA3"/>
<circle cx="1065.26" cy="157.20" r="4.9" fill="#3A4DA3"/>
<circle cx="1091.37" cy="238.20" r="4.9" fill="#3A4DA3"/>
<circle cx="1117.48" cy="271.00" r="4.9" fill="#3A4DA3"/>
<circle cx="1143.59" cy="271.00" r="4.9" fill="#3A4DA3"/>
<circle cx="1169.70" cy="254.80" r="4.9" fill="#3A4DA3"/>
<circle cx="1195.80" cy="233.80" r="4.9" fill="#3A4DA3"/>
<circle cx="1221.91" cy="229.50" r="4.9" fill="#3A4DA3"/>
<circle cx="1248.02" cy="225.10" r="4.9" fill="#3A4DA3"/>
<circle cx="1274.13" cy="226.00" r="4.9" fill="#3A4DA3"/>
<circle cx="1300.24" cy="176.90" r="4.9" fill="#3A4DA3"/>
<circle cx="1326.35" cy="116.50" r="4.9" fill="#3A4DA3"/>
<polyline points="1039.15,149.80 1065.26,142.80 1091.37,134.00 1117.48,125.30 1143.59,129.70 1169.70,143.20 1195.80,149.40 1221.91,146.30 1248.02,148.50 1274.13,155.90 1300.24,158.10 1326.35,158.10" fill="none" stroke="#EC1C24" stroke-width="6.2" stroke-linejoin="round" stroke-linecap="butt"/>
<circle cx="1039.15" cy="149.80" r="4.2" fill="none" stroke="#EC1C24" stroke-width="6.2"/>
<circle cx="1065.26" cy="142.80" r="4.2" fill="none" stroke="#EC1C24" stroke-width="6.2"/>
<circle cx="1091.37" cy="134.00" r="4.2" fill="none" stroke="#EC1C24" stroke-width="6.2"/>
<circle cx="1117.48" cy="125.30" r="4.2" fill="none" stroke="#EC1C24" stroke-width="6.2"/>
<circle cx="1143.59" cy="129.70" r="4.2" fill="none" stroke="#EC1C24" stroke-width="6.2"/>
<circle cx="1169.70" cy="143.20" r="4.2" fill="none" stroke="#EC1C24" stroke-width="6.2"/>
<circle cx="1195.80" cy="149.40" r="4.2" fill="none" stroke="#EC1C24" stroke-width="6.2"/>
<circle cx="1221.91" cy="146.30" r="4.2" fill="none" stroke="#EC1C24" stroke-width="6.2"/>
<circle cx="1248.02" cy="148.50" r="4.2" fill="none" stroke="#EC1C24" stroke-width="6.2"/>
<circle cx="1274.13" cy="155.90" r="4.2" fill="none" stroke="#EC1C24" stroke-width="6.2"/>
<circle cx="1300.24" cy="158.10" r="4.2" fill="none" stroke="#EC1C24" stroke-width="6.2"/>
<circle cx="1326.35" cy="158.10" r="4.2" fill="none" stroke="#EC1C24" stroke-width="6.2"/>
<polyline points="1039.15,231.60 1065.26,251.30 1091.37,285.00 1117.48,311.70 1143.59,321.40 1169.70,317.00 1195.80,307.40 1221.91,303.00 1248.02,310.40 1274.13,309.60 1300.24,293.80 1326.35,256.60" fill="none" stroke="#2A9D8C" stroke-width="6.2" stroke-linejoin="round" stroke-linecap="butt"/>
<polygon points="1039.15,221.00 1036.74,228.28 1029.07,228.32 1035.25,232.87 1032.92,240.18 1039.15,235.70 1045.38,240.18 1043.05,232.87 1049.24,228.32 1041.56,228.28" fill="#2A9D8C"/>
<polygon points="1065.26,240.70 1062.85,247.98 1055.18,248.02 1061.36,252.57 1059.03,259.88 1065.26,255.40 1071.49,259.88 1069.16,252.57 1075.34,248.02 1067.67,247.98" fill="#2A9D8C"/>
<polygon points="1091.37,274.40 1088.96,281.68 1081.29,281.72 1087.47,286.27 1085.14,293.58 1091.37,289.10 1097.60,293.58 1095.27,286.27 1101.45,281.72 1093.78,281.68" fill="#2A9D8C"/>
<polygon points="1117.48,301.10 1115.07,308.38 1107.40,308.42 1113.58,312.97 1111.25,320.28 1117.48,315.80 1123.71,320.28 1121.38,312.97 1127.56,308.42 1119.89,308.38" fill="#2A9D8C"/>
<polygon points="1143.59,310.80 1141.18,318.08 1133.51,318.12 1139.69,322.67 1137.36,329.98 1143.59,325.50 1149.82,329.98 1147.49,322.67 1153.67,318.12 1146.00,318.08" fill="#2A9D8C"/>
<polygon points="1169.70,306.40 1167.29,313.68 1159.61,313.72 1165.80,318.27 1163.47,325.58 1169.70,321.10 1175.93,325.58 1173.60,318.27 1179.78,313.72 1172.11,313.68" fill="#2A9D8C"/>
<polygon points="1195.80,296.80 1193.39,304.08 1185.72,304.12 1191.90,308.67 1189.57,315.98 1195.80,311.50 1202.03,315.98 1199.70,308.67 1205.89,304.12 1198.21,304.08" fill="#2A9D8C"/>
<polygon points="1221.91,292.40 1219.50,299.68 1211.83,299.72 1218.01,304.27 1215.68,311.58 1221.91,307.10 1228.14,311.58 1225.81,304.27 1231.99,299.72 1224.32,299.68" fill="#2A9D8C"/>
<polygon points="1248.02,299.80 1245.61,307.08 1237.94,307.12 1244.12,311.67 1241.79,318.98 1248.02,314.50 1254.25,318.98 1251.92,311.67 1258.10,307.12 1250.43,307.08" fill="#2A9D8C"/>
<polygon points="1274.13,299.00 1271.72,306.28 1264.05,306.32 1270.23,310.87 1267.90,318.18 1274.13,313.70 1280.36,318.18 1278.03,310.87 1284.21,306.32 1276.54,306.28" fill="#2A9D8C"/>
<polygon points="1300.24,283.20 1297.83,290.48 1290.16,290.52 1296.34,295.07 1294.01,302.38 1300.24,297.90 1306.47,302.38 1304.14,295.07 1310.32,290.52 1302.65,290.48" fill="#2A9D8C"/>
<polygon points="1326.35,246.00 1323.94,253.28 1316.26,253.32 1322.45,257.87 1320.12,265.18 1326.35,260.70 1332.58,265.18 1330.25,257.87 1336.43,253.32 1328.76,253.28" fill="#2A9D8C"/>
<line x1="69.40" y1="432.90" x2="382.70" y2="432.90" stroke="#262626" stroke-width="1.4"/>
<line x1="69.40" y1="760.90" x2="382.70" y2="760.90" stroke="#262626" stroke-width="1.4"/>
<line x1="69.40" y1="432.20" x2="69.40" y2="761.60" stroke="#0072BD" stroke-width="1.4"/>
<line x1="382.70" y1="432.20" x2="382.70" y2="761.60" stroke="#D95319" stroke-width="1.4"/>
<line x1="82.45" y1="760.90" x2="82.45" y2="756.40" stroke="#262626" stroke-width="1.4"/>
<line x1="82.45" y1="432.90" x2="82.45" y2="437.40" stroke="#262626" stroke-width="1.4"/>
<line x1="108.56" y1="760.90" x2="108.56" y2="756.40" stroke="#262626" stroke-width="1.4"/>
<line x1="108.56" y1="432.90" x2="108.56" y2="437.40" stroke="#262626" stroke-width="1.4"/>
<line x1="134.67" y1="760.90" x2="134.67" y2="756.40" stroke="#262626" stroke-width="1.4"/>
<line x1="134.67" y1="432.90" x2="134.67" y2="437.40" stroke="#262626" stroke-width="1.4"/>
<line x1="160.78" y1="760.90" x2="160.78" y2="756.40" stroke="#262626" stroke-width="1.4"/>
<line x1="160.78" y1="432.90" x2="160.78" y2="437.40" stroke="#262626" stroke-width="1.4"/>
<line x1="186.89" y1="760.90" x2="186.89" y2="756.40" stroke="#262626" stroke-width="1.4"/>
<line x1="186.89" y1="432.90" x2="186.89" y2="437.40" stroke="#262626" stroke-width="1.4"/>
<line x1="213.00" y1="760.90" x2="213.00" y2="756.40" stroke="#262626" stroke-width="1.4"/>
<line x1="213.00" y1="432.90" x2="213.00" y2="437.40" stroke="#262626" stroke-width="1.4"/>
<line x1="239.10" y1="760.90" x2="239.10" y2="756.40" stroke="#262626" stroke-width="1.4"/>
<line x1="239.10" y1="432.90" x2="239.10" y2="437.40" stroke="#262626" stroke-width="1.4"/>
<line x1="265.21" y1="760.90" x2="265.21" y2="756.40" stroke="#262626" stroke-width="1.4"/>
<line x1="265.21" y1="432.90" x2="265.21" y2="437.40" stroke="#262626" stroke-width="1.4"/>
<line x1="291.32" y1="760.90" x2="291.32" y2="756.40" stroke="#262626" stroke-width="1.4"/>
<line x1="291.32" y1="432.90" x2="291.32" y2="437.40" stroke="#262626" stroke-width="1.4"/>
<line x1="317.43" y1="760.90" x2="317.43" y2="756.40" stroke="#262626" stroke-width="1.4"/>
<line x1="317.43" y1="432.90" x2="317.43" y2="437.40" stroke="#262626" stroke-width="1.4"/>
<line x1="343.54" y1="760.90" x2="343.54" y2="756.40" stroke="#262626" stroke-width="1.4"/>
<line x1="343.54" y1="432.90" x2="343.54" y2="437.40" stroke="#262626" stroke-width="1.4"/>
<line x1="369.65" y1="760.90" x2="369.65" y2="756.40" stroke="#262626" stroke-width="1.4"/>
<line x1="369.65" y1="432.90" x2="369.65" y2="437.40" stroke="#262626" stroke-width="1.4"/>
<text transform="translate(82.45,787.20) scale(1.000,1.050)" text-anchor="middle" font-family='"Liberation Serif", serif' font-weight="bold" font-size="23.3" fill="#262626">J</text>
<text transform="translate(108.56,787.20) scale(1.000,1.050)" text-anchor="middle" font-family='"Liberation Serif", serif' font-weight="bold" font-size="23.3" fill="#262626">F</text>
<text transform="translate(134.67,787.20) scale(1.000,1.050)" text-anchor="middle" font-family='"Liberation Serif", serif' font-weight="bold" font-size="23.3" fill="#262626">M</text>
<text transform="translate(160.78,787.20) scale(1.000,1.050)" text-anchor="middle" font-family='"Liberation Serif", serif' font-weight="bold" font-size="23.3" fill="#262626">A</text>
<text transform="translate(186.89,787.20) scale(1.000,1.050)" text-anchor="middle" font-family='"Liberation Serif", serif' font-weight="bold" font-size="23.3" fill="#262626">M</text>
<text transform="translate(213.00,787.20) scale(1.000,1.050)" text-anchor="middle" font-family='"Liberation Serif", serif' font-weight="bold" font-size="23.3" fill="#262626">J</text>
<text transform="translate(239.10,787.20) scale(1.000,1.050)" text-anchor="middle" font-family='"Liberation Serif", serif' font-weight="bold" font-size="23.3" fill="#262626">J</text>
<text transform="translate(265.21,787.20) scale(1.000,1.050)" text-anchor="middle" font-family='"Liberation Serif", serif' font-weight="bold" font-size="23.3" fill="#262626">A</text>
<text transform="translate(291.32,787.20) scale(1.000,1.050)" text-anchor="middle" font-family='"Liberation Serif", serif' font-weight="bold" font-size="23.3" fill="#262626">S</text>
<text transform="translate(317.43,787.20) scale(1.000,1.050)" text-anchor="middle" font-family='"Liberation Serif", serif' font-weight="bold" font-size="23.3" fill="#262626">O</text>
<text transform="translate(343.54,787.20) scale(1.000,1.050)" text-anchor="middle" font-family='"Liberation Serif", serif' font-weight="bold" font-size="23.3" fill="#262626">N</text>
<text transform="translate(369.65,787.20) scale(1.000,1.050)" text-anchor="middle" font-family='"Liberation Serif", serif' font-weight="bold" font-size="23.3" fill="#262626">D</text>
<line x1="69.40" y1="731.08" x2="73.90" y2="731.08" stroke="#0072BD" stroke-width="1.4"/>
<text transform="translate(63.60,739.98) scale(1.000,1.050)" text-anchor="end" font-family='"Liberation Serif", serif' font-weight="bold" font-size="23.3" fill="#0072BD">0.8</text>
<line x1="69.40" y1="671.45" x2="73.90" y2="671.45" stroke="#0072BD" stroke-width="1.4"/>
<text transform="translate(63.60,680.35) scale(1.000,1.050)" text-anchor="end" font-family='"Liberation Serif", serif' font-weight="bold" font-size="23.3" fill="#0072BD">1</text>
<line x1="69.40" y1="611.81" x2="73.90" y2="611.81" stroke="#0072BD" stroke-width="1.4"/>
<text transform="translate(63.60,620.71) scale(1.000,1.050)" text-anchor="end" font-family='"Liberation Serif", serif' font-weight="bold" font-size="23.3" fill="#0072BD">1.2</text>
<line x1="69.40" y1="552.17" x2="73.90" y2="552.17" stroke="#0072BD" stroke-width="1.4"/>
<text transform="translate(63.60,561.07) scale(1.000,1.050)" text-anchor="end" font-family='"Liberation Serif", serif' font-weight="bold" font-size="23.3" fill="#0072BD">1.4</text>
<line x1="69.40" y1="492.54" x2="73.90" y2="492.54" stroke="#0072BD" stroke-width="1.4"/>
<text transform="translate(63.60,501.44) scale(1.000,1.050)" text-anchor="end" font-family='"Liberation Serif", serif' font-weight="bold" font-size="23.3" fill="#0072BD">1.6</text>
<line x1="69.40" y1="432.90" x2="73.90" y2="432.90" stroke="#0072BD" stroke-width="1.4"/>
<text transform="translate(63.60,441.80) scale(1.000,1.050)" text-anchor="end" font-family='"Liberation Serif", serif' font-weight="bold" font-size="23.3" fill="#0072BD">1.8</text>
<line x1="382.70" y1="724.46" x2="378.20" y2="724.46" stroke="#D95319" stroke-width="1.4"/>
<text transform="translate(387.30,733.36) scale(1.000,1.050)" text-anchor="start" font-family='"Liberation Serif", serif' font-weight="bold" font-size="23.3" fill="#D95319">600</text>
<line x1="382.70" y1="651.57" x2="378.20" y2="651.57" stroke="#D95319" stroke-width="1.4"/>
<text transform="translate(387.30,660.47) scale(1.000,1.050)" text-anchor="start" font-family='"Liberation Serif", serif' font-weight="bold" font-size="23.3" fill="#D95319">800</text>
<line x1="382.70" y1="578.68" x2="378.20" y2="578.68" stroke="#D95319" stroke-width="1.4"/>
<text transform="translate(387.30,587.58) scale(1.000,1.050)" text-anchor="start" font-family='"Liberation Serif", serif' font-weight="bold" font-size="23.3" fill="#D95319">1000</text>
<line x1="382.70" y1="505.79" x2="378.20" y2="505.79" stroke="#D95319" stroke-width="1.4"/>
<text transform="translate(387.30,514.69) scale(1.000,1.050)" text-anchor="start" font-family='"Liberation Serif", serif' font-weight="bold" font-size="23.3" fill="#D95319">1200</text>
<line x1="382.70" y1="432.90" x2="378.20" y2="432.90" stroke="#D95319" stroke-width="1.4"/>
<text transform="translate(387.30,441.80) scale(1.000,1.050)" text-anchor="start" font-family='"Liberation Serif", serif' font-weight="bold" font-size="23.3" fill="#D95319">1400</text>
<text transform="translate(244.85,428.10) scale(1.000,1.050)" text-anchor="middle" font-family='"Liberation Serif", serif' font-weight="bold" font-size="24" fill="#000">LS</text>
<text transform="translate(6.80,449.50) scale(1.000,1.000)" text-anchor="start" font-family='"Liberation Sans", sans-serif' font-weight="bold" font-size="30" fill="#000">D</text>
<text transform="translate(26.70,596.90) rotate(-90) scale(1.030,1.050)" text-anchor="middle" font-family='"Liberation Serif", serif' font-weight="bold" font-size="23.3" fill="#0072BD">CHL (mg m<tspan dy="-11" font-size="17">-3</tspan><tspan dy="11">)</tspan></text>
<text transform="translate(467.40,596.90) rotate(-90) scale(1.000,1.050)" text-anchor="middle" font-family='"Liberation Serif", serif' font-weight="bold" font-size="23.3" fill="#D95319">NPP (mgC m<tspan dx="1.5" dy="-11" font-size="17">-</tspan><tspan dx="1" dy="11">2 d</tspan><tspan dx="3.5" dy="-11" font-size="17">-</tspan><tspan dx="3" font-size="17">1</tspan><tspan dx="0.5" dy="11">)</tspan></text>
<polyline points="82.45,490.70 108.56,512.50 134.67,624.10 160.78,700.70 186.89,700.70 213.00,702.00 239.10,702.00 265.21,727.00 291.32,719.60 317.43,687.60 343.54,575.10 369.65,500.30" fill="none" stroke="#3A4DA3" stroke-width="6.2" stroke-linejoin="round" stroke-linecap="butt"/>
<circle cx="82.45" cy="490.70" r="4.9" fill="#3A4DA3"/>
<circle cx="108.56" cy="512.50" r="4.9" fill="#3A4DA3"/>
<circle cx="134.67" cy="624.10" r="4.9" fill="#3A4DA3"/>
<circle cx="160.78" cy="700.70" r="4.9" fill="#3A4DA3"/>
<circle cx="186.89" cy="700.70" r="4.9" fill="#3A4DA3"/>
<circle cx="213.00" cy="702.00" r="4.9" fill="#3A4DA3"/>
<circle cx="239.10" cy="702.00" r="4.9" fill="#3A4DA3"/>
<circle cx="265.21" cy="727.00" r="4.9" fill="#3A4DA3"/>
<circle cx="291.32" cy="719.60" r="4.9" fill="#3A4DA3"/>
<circle cx="317.43" cy="687.60" r="4.9" fill="#3A4DA3"/>
<circle cx="343.54" cy="575.10" r="4.9" fill="#3A4DA3"/>
<circle cx="369.65" cy="500.30" r="4.9" fill="#3A4DA3"/>
<polyline points="82.45,603.10 108.56,609.70 134.67,614.10 160.78,617.60 186.89,639.50 213.00,681.90 239.10,703.80 265.21,703.80 291.32,686.70 317.43,676.70 343.54,646.90 369.65,614.10" fill="none" stroke="#EC1C24" stroke-width="6.2" stroke-linejoin="round" stroke-linecap="butt"/>
<circle cx="82.45" cy="603.10" r="4.2" fill="none" stroke="#EC1C24" stroke-width="6.2"/>
<circle cx="108.56" cy="609.70" r="4.2" fill="none" stroke="#EC1C24" stroke-width="6.2"/>
<circle cx="134.67" cy="614.10" r="4.2" fill="none" stroke="#EC1C24" stroke-width="6.2"/>
<circle cx="160.78" cy="617.60" r="4.2" fill="none" stroke="#EC1C24" stroke-width="6.2"/>
<circle cx="186.89" cy="639.50" r="4.2" fill="none" stroke="#EC1C24" stroke-width="6.2"/>
<circle cx="213.00" cy="681.90" r="4.2" fill="none" stroke="#EC1C24" stroke-width="6.2"/>
<circle cx="239.10" cy="703.80" r="4.2" fill="none" stroke="#EC1C24" stroke-width="6.2"/>
<circle cx="265.21" cy="703.80" r="4.2" fill="none" stroke="#EC1C24" stroke-width="6.2"/>
<circle cx="291.32" cy="686.70" r="4.2" fill="none" stroke="#EC1C24" stroke-width="6.2"/>
<circle cx="317.43" cy="676.70" r="4.2" fill="none" stroke="#EC1C24" stroke-width="6.2"/>
<circle cx="343.54" cy="646.90" r="4.2" fill="none" stroke="#EC1C24" stroke-width="6.2"/>
<circle cx="369.65" cy="614.10" r="4.2" fill="none" stroke="#EC1C24" stroke-width="6.2"/>
<polyline points="82.45,501.60 108.56,511.20 134.67,602.30 160.78,665.70 186.89,686.70 213.00,690.70 239.10,700.70 265.21,714.70 291.32,706.40 317.43,677.50 343.54,615.40 369.65,537.90" fill="none" stroke="#2A9D8C" stroke-width="6.2" stroke-linejoin="round" stroke-linecap="butt"/>
<polygon points="82.45,491.00 80.04,498.28 72.37,498.32 78.55,502.87 76.22,510.18 82.45,505.70 88.68,510.18 86.35,502.87 92.54,498.32 84.86,498.28" fill="#2A9D8C"/>
<polygon points="108.56,500.60 106.15,507.88 98.48,507.92 104.66,512.47 102.33,519.78 108.56,515.30 114.79,519.78 112.46,512.47 118.64,507.92 110.97,507.88" fill="#2A9D8C"/>
<polygon points="134.67,591.70 132.26,598.98 124.59,599.02 130.77,603.57 128.44,610.88 134.67,606.40 140.90,610.88 138.57,603.57 144.75,599.02 137.08,598.98" fill="#2A9D8C"/>
<polygon points="160.78,655.10 158.37,662.38 150.70,662.42 156.88,666.97 154.55,674.28 160.78,669.80 167.01,674.28 164.68,666.97 170.86,662.42 163.19,662.38" fill="#2A9D8C"/>
<polygon points="186.89,676.10 184.48,683.38 176.81,683.42 182.99,687.97 180.66,695.28 186.89,690.80 193.12,695.28 190.79,687.97 196.97,683.42 189.30,683.38" fill="#2A9D8C"/>
<polygon points="213.00,680.10 210.59,687.38 202.91,687.42 209.10,691.97 206.77,699.28 213.00,694.80 219.23,699.28 216.90,691.97 223.08,687.42 215.41,687.38" fill="#2A9D8C"/>
<polygon points="239.10,690.10 236.69,697.38 229.02,697.42 235.20,701.97 232.87,709.28 239.10,704.80 245.33,709.28 243.00,701.97 249.19,697.42 241.51,697.38" fill="#2A9D8C"/>
<polygon points="265.21,704.10 262.80,711.38 255.13,711.42 261.31,715.97 258.98,723.28 265.21,718.80 271.44,723.28 269.11,715.97 275.29,711.42 267.62,711.38" fill="#2A9D8C"/>
<polygon points="291.32,695.80 288.91,703.08 281.24,703.12 287.42,707.67 285.09,714.98 291.32,710.50 297.55,714.98 295.22,707.67 301.40,703.12 293.73,703.08" fill="#2A9D8C"/>
<polygon points="317.43,666.90 315.02,674.18 307.35,674.22 313.53,678.77 311.20,686.08 317.43,681.60 323.66,686.08 321.33,678.77 327.51,674.22 319.84,674.18" fill="#2A9D8C"/>
<polygon points="343.54,604.80 341.13,612.08 333.46,612.12 339.64,616.67 337.31,623.98 343.54,619.50 349.77,623.98 347.44,616.67 353.62,612.12 345.95,612.08" fill="#2A9D8C"/>
<polygon points="369.65,527.30 367.24,534.58 359.56,534.62 365.75,539.17 363.42,546.48 369.65,542.00 375.88,546.48 373.55,539.17 379.73,534.62 372.06,534.58" fill="#2A9D8C"/>
<line x1="547.70" y1="432.90" x2="860.80" y2="432.90" stroke="#262626" stroke-width="1.4"/>
<line x1="547.70" y1="760.90" x2="860.80" y2="760.90" stroke="#262626" stroke-width="1.4"/>
<line x1="547.70" y1="432.20" x2="547.70" y2="761.60" stroke="#0072BD" stroke-width="1.4"/>
<line x1="860.80" y1="432.20" x2="860.80" y2="761.60" stroke="#D95319" stroke-width="1.4"/>
<line x1="560.75" y1="760.90" x2="560.75" y2="756.40" stroke="#262626" stroke-width="1.4"/>
<line x1="560.75" y1="432.90" x2="560.75" y2="437.40" stroke="#262626" stroke-width="1.4"/>
<line x1="586.84" y1="760.90" x2="586.84" y2="756.40" stroke="#262626" stroke-width="1.4"/>
<line x1="586.84" y1="432.90" x2="586.84" y2="437.40" stroke="#262626" stroke-width="1.4"/>
<line x1="612.93" y1="760.90" x2="612.93" y2="756.40" stroke="#262626" stroke-width="1.4"/>
<line x1="612.93" y1="432.90" x2="612.93" y2="437.40" stroke="#262626" stroke-width="1.4"/>
<line x1="639.02" y1="760.90" x2="639.02" y2="756.40" stroke="#262626" stroke-width="1.4"/>
<line x1="639.02" y1="432.90" x2="639.02" y2="437.40" stroke="#262626" stroke-width="1.4"/>
<line x1="665.11" y1="760.90" x2="665.11" y2="756.40" stroke="#262626" stroke-width="1.4"/>
<line x1="665.11" y1="432.90" x2="665.11" y2="437.40" stroke="#262626" stroke-width="1.4"/>
<line x1="691.20" y1="760.90" x2="691.20" y2="756.40" stroke="#262626" stroke-width="1.4"/>
<line x1="691.20" y1="432.90" x2="691.20" y2="437.40" stroke="#262626" stroke-width="1.4"/>
<line x1="717.30" y1="760.90" x2="717.30" y2="756.40" stroke="#262626" stroke-width="1.4"/>
<line x1="717.30" y1="432.90" x2="717.30" y2="437.40" stroke="#262626" stroke-width="1.4"/>
<line x1="743.39" y1="760.90" x2="743.39" y2="756.40" stroke="#262626" stroke-width="1.4"/>
<line x1="743.39" y1="432.90" x2="743.39" y2="437.40" stroke="#262626" stroke-width="1.4"/>
<line x1="769.48" y1="760.90" x2="769.48" y2="756.40" stroke="#262626" stroke-width="1.4"/>
<line x1="769.48" y1="432.90" x2="769.48" y2="437.40" stroke="#262626" stroke-width="1.4"/>
<line x1="795.57" y1="760.90" x2="795.57" y2="756.40" stroke="#262626" stroke-width="1.4"/>
<line x1="795.57" y1="432.90" x2="795.57" y2="437.40" stroke="#262626" stroke-width="1.4"/>
<line x1="821.66" y1="760.90" x2="821.66" y2="756.40" stroke="#262626" stroke-width="1.4"/>
<line x1="821.66" y1="432.90" x2="821.66" y2="437.40" stroke="#262626" stroke-width="1.4"/>
<line x1="847.75" y1="760.90" x2="847.75" y2="756.40" stroke="#262626" stroke-width="1.4"/>
<line x1="847.75" y1="432.90" x2="847.75" y2="437.40" stroke="#262626" stroke-width="1.4"/>
<text transform="translate(560.75,787.20) scale(1.000,1.050)" text-anchor="middle" font-family='"Liberation Serif", serif' font-weight="bold" font-size="23.3" fill="#262626">J</text>
<text transform="translate(586.84,787.20) scale(1.000,1.050)" text-anchor="middle" font-family='"Liberation Serif", serif' font-weight="bold" font-size="23.3" fill="#262626">F</text>
<text transform="translate(612.93,787.20) scale(1.000,1.050)" text-anchor="middle" font-family='"Liberation Serif", serif' font-weight="bold" font-size="23.3" fill="#262626">M</text>
<text transform="translate(639.02,787.20) scale(1.000,1.050)" text-anchor="middle" font-family='"Liberation Serif", serif' font-weight="bold" font-size="23.3" fill="#262626">A</text>
<text transform="translate(665.11,787.20) scale(1.000,1.050)" text-anchor="middle" font-family='"Liberation Serif", serif' font-weight="bold" font-size="23.3" fill="#262626">M</text>
<text transform="translate(691.20,787.20) scale(1.000,1.050)" text-anchor="middle" font-family='"Liberation Serif", serif' font-weight="bold" font-size="23.3" fill="#262626">J</text>
<text transform="translate(717.30,787.20) scale(1.000,1.050)" text-anchor="middle" font-family='"Liberation Serif", serif' font-weight="bold" font-size="23.3" fill="#262626">J</text>
<text transform="translate(743.39,787.20) scale(1.000,1.050)" text-anchor="middle" font-family='"Liberation Serif", serif' font-weight="bold" font-size="23.3" fill="#262626">A</text>
<text transform="translate(769.48,787.20) scale(1.000,1.050)" text-anchor="middle" font-family='"Liberation Serif", serif' font-weight="bold" font-size="23.3" fill="#262626">S</text>
<text transform="translate(795.57,787.20) scale(1.000,1.050)" text-anchor="middle" font-family='"Liberation Serif", serif' font-weight="bold" font-size="23.3" fill="#262626">O</text>
<text transform="translate(821.66,787.20) scale(1.000,1.050)" text-anchor="middle" font-family='"Liberation Serif", serif' font-weight="bold" font-size="23.3" fill="#262626">N</text>
<text transform="translate(847.75,787.20) scale(1.000,1.050)" text-anchor="middle" font-family='"Liberation Serif", serif' font-weight="bold" font-size="23.3" fill="#262626">D</text>
<line x1="547.70" y1="734.66" x2="552.20" y2="734.66" stroke="#0072BD" stroke-width="1.4"/>
<text transform="translate(541.90,743.56) scale(1.000,1.050)" text-anchor="end" font-family='"Liberation Serif", serif' font-weight="bold" font-size="23.3" fill="#0072BD">0.5</text>
<line x1="547.70" y1="669.06" x2="552.20" y2="669.06" stroke="#0072BD" stroke-width="1.4"/>
<text transform="translate(541.90,677.96) scale(1.000,1.050)" text-anchor="end" font-family='"Liberation Serif", serif' font-weight="bold" font-size="23.3" fill="#0072BD">1</text>
<line x1="547.70" y1="603.46" x2="552.20" y2="603.46" stroke="#0072BD" stroke-width="1.4"/>
<text transform="translate(541.90,612.36) scale(1.000,1.050)" text-anchor="end" font-family='"Liberation Serif", serif' font-weight="bold" font-size="23.3" fill="#0072BD">1.5</text>
<line x1="547.70" y1="537.86" x2="552.20" y2="537.86" stroke="#0072BD" stroke-width="1.4"/>
<text transform="translate(541.90,546.76) scale(1.000,1.050)" text-anchor="end" font-family='"Liberation Serif", serif' font-weight="bold" font-size="23.3" fill="#0072BD">2</text>
<line x1="547.70" y1="472.26" x2="552.20" y2="472.26" stroke="#0072BD" stroke-width="1.4"/>
<text transform="translate(541.90,481.16) scale(1.000,1.050)" text-anchor="end" font-family='"Liberation Serif", serif' font-weight="bold" font-size="23.3" fill="#0072BD">2.5</text>
<line x1="860.80" y1="740.40" x2="856.30" y2="740.40" stroke="#D95319" stroke-width="1.4"/>
<text transform="translate(865.40,749.30) scale(1.000,1.050)" text-anchor="start" font-family='"Liberation Serif", serif' font-weight="bold" font-size="23.3" fill="#D95319">500</text>
<line x1="860.80" y1="637.90" x2="856.30" y2="637.90" stroke="#D95319" stroke-width="1.4"/>
<text transform="translate(865.40,646.80) scale(1.000,1.050)" text-anchor="start" font-family='"Liberation Serif", serif' font-weight="bold" font-size="23.3" fill="#D95319">1000</text>
<line x1="860.80" y1="535.40" x2="856.30" y2="535.40" stroke="#D95319" stroke-width="1.4"/>
<text transform="translate(865.40,544.30) scale(1.000,1.050)" text-anchor="start" font-family='"Liberation Serif", serif' font-weight="bold" font-size="23.3" fill="#D95319">1500</text>
<line x1="860.80" y1="432.90" x2="856.30" y2="432.90" stroke="#D95319" stroke-width="1.4"/>
<text transform="translate(865.40,441.80) scale(1.000,1.050)" text-anchor="start" font-family='"Liberation Serif", serif' font-weight="bold" font-size="23.3" fill="#D95319">2000</text>
<text transform="translate(723.05,428.10) scale(1.000,1.050)" text-anchor="middle" font-family='"Liberation Serif", serif' font-weight="bold" font-size="24" fill="#000">VE</text>
<text transform="translate(477.30,449.50) scale(1.000,1.000)" text-anchor="start" font-family='"Liberation Sans", sans-serif' font-weight="bold" font-size="30" fill="#000">E</text>
<text transform="translate(505.00,596.90) rotate(-90) scale(1.030,1.050)" text-anchor="middle" font-family='"Liberation Serif", serif' font-weight="bold" font-size="23.3" fill="#0072BD">CHL (mg m<tspan dy="-11" font-size="17">-3</tspan><tspan dy="11">)</tspan></text>
<text transform="translate(945.50,596.90) rotate(-90) scale(1.000,1.050)" text-anchor="middle" font-family='"Liberation Serif", serif' font-weight="bold" font-size="23.3" fill="#D95319">NPP (mgC m<tspan dx="1.5" dy="-11" font-size="17">-</tspan><tspan dx="1" dy="11">2 d</tspan><tspan dx="3.5" dy="-11" font-size="17">-</tspan><tspan dx="3" font-size="17">1</tspan><tspan dx="0.5" dy="11">)</tspan></text>
<polyline points="560.75,611.90 586.84,681.90 612.93,722.60 639.02,731.40 665.11,711.70 691.20,653.50 717.30,572.50 743.39,500.30 769.48,560.70 795.57,586.90 821.66,622.00 847.75,581.30" fill="none" stroke="#3A4DA3" stroke-width="6.2" stroke-linejoin="round" stroke-linecap="butt"/>
<circle cx="560.75" cy="611.90" r="4.9" fill="#3A4DA3"/>
<circle cx="586.84" cy="681.90" r="4.9" fill="#3A4DA3"/>
<circle cx="612.93" cy="722.60" r="4.9" fill="#3A4DA3"/>
<circle cx="639.02" cy="731.40" r="4.9" fill="#3A4DA3"/>
<circle cx="665.11" cy="711.70" r="4.9" fill="#3A4DA3"/>
<circle cx="691.20" cy="653.50" r="4.9" fill="#3A4DA3"/>
<circle cx="717.30" cy="572.50" r="4.9" fill="#3A4DA3"/>
<circle cx="743.39" cy="500.30" r="4.9" fill="#3A4DA3"/>
<circle cx="769.48" cy="560.70" r="4.9" fill="#3A4DA3"/>
<circle cx="795.57" cy="586.90" r="4.9" fill="#3A4DA3"/>
<circle cx="821.66" cy="622.00" r="4.9" fill="#3A4DA3"/>
<circle cx="847.75" cy="581.30" r="4.9" fill="#3A4DA3"/>
<polyline points="560.75,716.10 586.84,717.40 612.93,708.60 639.02,684.10 665.11,648.20 691.20,614.50 717.30,585.60 743.39,559.80 769.48,572.90 795.57,613.20 821.66,659.20 847.75,699.40" fill="none" stroke="#EC1C24" stroke-width="6.2" stroke-linejoin="round" stroke-linecap="butt"/>
<circle cx="560.75" cy="716.10" r="4.2" fill="none" stroke="#EC1C24" stroke-width="6.2"/>
<circle cx="586.84" cy="717.40" r="4.2" fill="none" stroke="#EC1C24" stroke-width="6.2"/>
<circle cx="612.93" cy="708.60" r="4.2" fill="none" stroke="#EC1C24" stroke-width="6.2"/>
<circle cx="639.02" cy="684.10" r="4.2" fill="none" stroke="#EC1C24" stroke-width="6.2"/>
<circle cx="665.11" cy="648.20" r="4.2" fill="none" stroke="#EC1C24" stroke-width="6.2"/>
<circle cx="691.20" cy="614.50" r="4.2" fill="none" stroke="#EC1C24" stroke-width="6.2"/>
<circle cx="717.30" cy="585.60" r="4.2" fill="none" stroke="#EC1C24" stroke-width="6.2"/>
<circle cx="743.39" cy="559.80" r="4.2" fill="none" stroke="#EC1C24" stroke-width="6.2"/>
<circle cx="769.48" cy="572.90" r="4.2" fill="none" stroke="#EC1C24" stroke-width="6.2"/>
<circle cx="795.57" cy="613.20" r="4.2" fill="none" stroke="#EC1C24" stroke-width="6.2"/>
<circle cx="821.66" cy="659.20" r="4.2" fill="none" stroke="#EC1C24" stroke-width="6.2"/>
<circle cx="847.75" cy="699.40" r="4.2" fill="none" stroke="#EC1C24" stroke-width="6.2"/>
<polyline points="560.75,537.90 586.84,625.00 612.93,688.90 639.02,721.30 665.11,699.90 691.20,629.80 717.30,558.50 743.39,511.20 769.48,573.80 795.57,611.00 821.66,611.00 847.75,536.60" fill="none" stroke="#2A9D8C" stroke-width="6.2" stroke-linejoin="round" stroke-linecap="butt"/>
<polygon points="560.75,527.30 558.34,534.58 550.66,534.62 556.85,539.17 554.52,546.48 560.75,542.00 566.98,546.48 564.65,539.17 570.83,534.62 563.16,534.58" fill="#2A9D8C"/>
<polygon points="586.84,614.40 584.43,621.68 576.76,621.72 582.94,626.27 580.61,633.58 586.84,629.10 593.07,633.58 590.74,626.27 596.92,621.72 589.25,621.68" fill="#2A9D8C"/>
<polygon points="612.93,678.30 610.52,685.58 602.85,685.62 609.03,690.17 606.70,697.48 612.93,693.00 619.16,697.48 616.83,690.17 623.01,685.62 615.34,685.58" fill="#2A9D8C"/>
<polygon points="639.02,710.70 636.61,717.98 628.94,718.02 635.12,722.57 632.79,729.88 639.02,725.40 645.25,729.88 642.92,722.57 649.10,718.02 641.43,717.98" fill="#2A9D8C"/>
<polygon points="665.11,689.30 662.70,696.58 655.03,696.62 661.21,701.17 658.88,708.48 665.11,704.00 671.34,708.48 669.01,701.17 675.19,696.62 667.52,696.58" fill="#2A9D8C"/>
<polygon points="691.20,619.20 688.79,626.48 681.12,626.52 687.30,631.07 684.97,638.38 691.20,633.90 697.43,638.38 695.10,631.07 701.29,626.52 693.61,626.48" fill="#2A9D8C"/>
<polygon points="717.30,547.90 714.89,555.18 707.21,555.22 713.40,559.77 711.07,567.08 717.30,562.60 723.53,567.08 721.20,559.77 727.38,555.22 719.71,555.18" fill="#2A9D8C"/>
<polygon points="743.39,500.60 740.98,507.88 733.31,507.92 739.49,512.47 737.16,519.78 743.39,515.30 749.62,519.78 747.29,512.47 753.47,507.92 745.80,507.88" fill="#2A9D8C"/>
<polygon points="769.48,563.20 767.07,570.48 759.40,570.52 765.58,575.07 763.25,582.38 769.48,577.90 775.71,582.38 773.38,575.07 779.56,570.52 771.89,570.48" fill="#2A9D8C"/>
<polygon points="795.57,600.40 793.16,607.68 785.49,607.72 791.67,612.27 789.34,619.58 795.57,615.10 801.80,619.58 799.47,612.27 805.65,607.72 797.98,607.68" fill="#2A9D8C"/>
<polygon points="821.66,600.40 819.25,607.68 811.58,607.72 817.76,612.27 815.43,619.58 821.66,615.10 827.89,619.58 825.56,612.27 831.74,607.72 824.07,607.68" fill="#2A9D8C"/>
<polygon points="847.75,526.00 845.34,533.28 837.67,533.32 843.85,537.87 841.52,545.18 847.75,540.70 853.98,545.18 851.65,537.87 857.84,533.32 850.16,533.28" fill="#2A9D8C"/>
<rect x="1141.4" y="513.4" width="195" height="145.1" fill="#fff" stroke="#262626" stroke-width="1.4"/>
<line x1="1150.5" y1="542.20" x2="1237.9" y2="542.20" stroke="#EC1C24" stroke-width="6"/>
<circle cx="1194.2" cy="542.20" r="7" fill="#EC1C24"/>
<text transform="translate(1245.50,550.70) scale(1.000,1.050)" text-anchor="start" font-family='"Liberation Serif", serif' font-weight="bold" font-size="23.3" fill="#000">SABPM</text>
<line x1="1150.5" y1="585.85" x2="1237.9" y2="585.85" stroke="#2A9D8C" stroke-width="6"/>
<polygon points="1194.20,575.75 1191.79,583.03 1184.12,583.07 1190.30,587.62 1187.97,594.93 1194.20,590.45 1200.43,594.93 1198.10,587.62 1204.28,583.07 1196.61,583.03" fill="#2A9D8C"/>
<text transform="translate(1245.50,594.95) scale(1.000,1.050)" text-anchor="start" font-family='"Liberation Serif", serif' font-weight="bold" font-size="23.3" fill="#000">VGPM</text>
<line x1="1150.5" y1="630.10" x2="1237.9" y2="630.10" stroke="#3A4DA3" stroke-width="6"/>
<circle cx="1194.2" cy="630.10" r="4" fill="#3A4DA3"/>
<text transform="translate(1245.50,639.20) scale(1.000,1.050)" text-anchor="start" font-family='"Liberation Serif", serif' font-weight="bold" font-size="23.3" fill="#000">CHL</text>
</svg></body></html>
